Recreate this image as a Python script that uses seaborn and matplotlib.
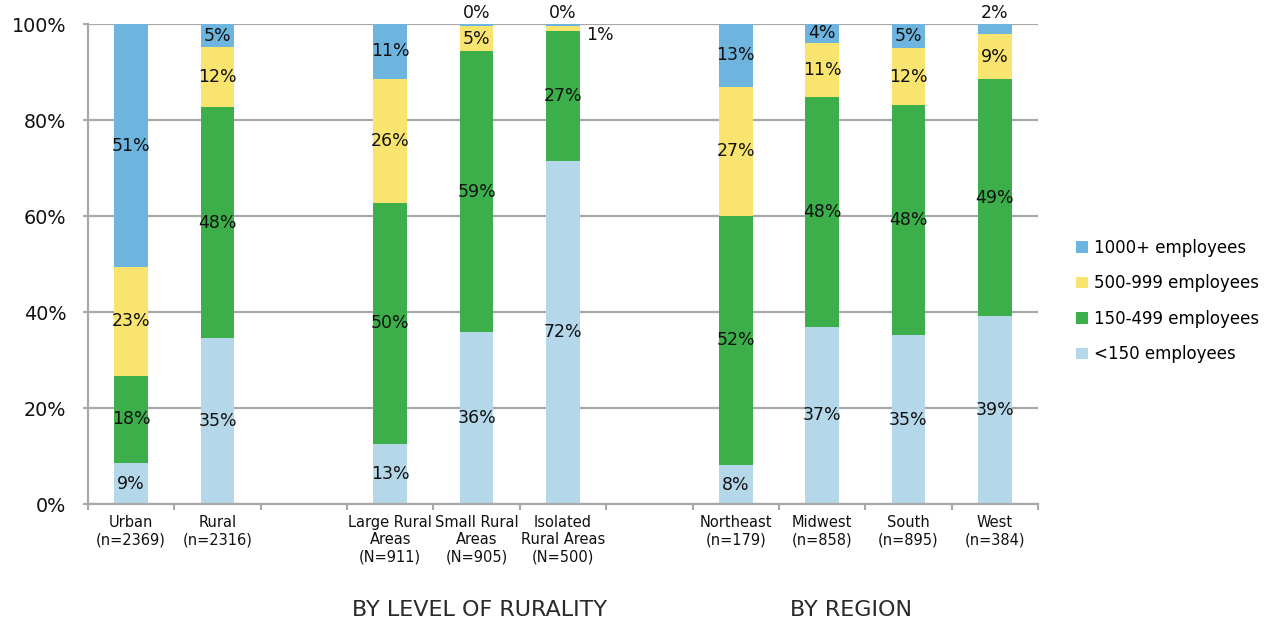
import numpy as np
import pandas as pd
import matplotlib
matplotlib.use("Agg")
import matplotlib.pyplot as plt
import seaborn as sns
from matplotlib.patches import Patch
from matplotlib.transforms import blended_transform_factory

# Hospital size distribution (% of hospitals) by rurality and census region
categories = ["Urban\n(n=2369)", "Rural\n(n=2316)",
              "Large Rural\nAreas\n(N=911)", "Small Rural\nAreas\n(N=905)",
              "Isolated\nRural Areas\n(N=500)",
              "Northeast\n(n=179)", "Midwest\n(n=858)", "South\n(n=895)", "West\n(n=384)"]
under_150 = [8.6, 34.6, 12.6, 35.8, 71.6, 8.2, 37.0, 35.2, 39.2]
emp_150_499 = [18.2, 48.2, 50.2, 58.6, 27.0, 51.9, 47.9, 47.9, 49.4]
emp_500_999 = [22.6, 12.4, 25.9, 5.2, 1.0, 26.9, 11.3, 12.0, 9.3]
emp_1000_plus = [50.6, 4.8, 11.3, 0.4, 0.4, 13.0, 3.8, 4.9, 2.1]

series_names = ["<150 employees", "150-499 employees", "500-999 employees", "1000+ employees"]
series_colors = ["#B4D7E9", "#3CAE4A", "#F9E46F", "#6DB4DF"]
group_titles = ["BY LEVEL OF RURALITY", "BY REGION"]

# slot order with blank spacer columns between the groups
gap1, gap2 = " ", "  "
order = categories[:2] + [gap1] + categories[2:5] + [gap2] + categories[5:]

df = pd.DataFrame({
    "category": categories,
    series_names[0]: under_150,
    series_names[1]: emp_150_499,
    series_names[2]: emp_500_999,
    series_names[3]: emp_1000_plus,
})
cum = df[series_names].cumsum(axis=1)
for name in series_names:
    df["top_" + name] = cum[name]

plt.rcParams["font.family"] = ["DejaVu Sans"]
fig = plt.figure(figsize=(12.68, 6.21), dpi=100)
ax = fig.add_axes([88 / 1268, (621 - 504.3) / 621, (1038 - 88) / 1268, 480 / 621])

grid_color = "#A8A8A8"
ax.set_axisbelow(True)
ax.yaxis.grid(True, color=grid_color, linewidth=1.6)

# stacked bars: draw cumulative totals from the top series down
for name, color in reversed(list(zip(series_names, series_colors))):
    sns.barplot(data=df, x="category", y="top_" + name, order=order,
                color=color, saturation=1, width=0.39, ax=ax,
                edgecolor="none", linewidth=0)

# value labels
for i, cat in enumerate(categories):
    xi = order.index(cat)
    bottom = 0.0
    for k, name in enumerate(series_names):
        v = df.loc[i, name]
        txt = f"{v:.0f}%"
        if v < 3 and k == len(series_names) - 1:
            ax.annotate(txt, (xi, 100), xytext=(0, 1.5), textcoords="offset points",
                        ha="center", va="bottom", fontsize=12.5, color="#111111",
                        annotation_clip=False)
        elif v < 3:
            ax.annotate(txt, (xi + 0.2, bottom + v), xytext=(4, -6), textcoords="offset points",
                        ha="left", va="center", fontsize=12.5, color="#111111",
                        annotation_clip=False)
        else:
            ax.text(xi, bottom + v / 2, txt, ha="center", va="center",
                    fontsize=12.5, color="#111111")
        bottom += v

ax.set_xlim(-0.5, len(order) - 0.5)
ax.set_ylim(0, 100)
ax.set_yticks(np.arange(0, 101, 20))
ax.set_yticklabels([f"{t}%" for t in range(0, 101, 20)], fontsize=13.8, color="#111111")
ax.set_xticks(range(len(order)))
ax.set_xticklabels([c if c.strip() else "" for c in order], fontsize=10.5,
                   color="#111111", linespacing=1.15)
ax.tick_params(axis="x", which="major", length=0, pad=8)
ax.set_xticks(np.arange(-0.5, len(order), 1), minor=True)
ax.tick_params(axis="x", which="minor", length=4, width=1.5, color=grid_color)
ax.tick_params(axis="y", length=3.6, width=1.5, color=grid_color, pad=12)
ax.set_xlabel("")
ax.set_ylabel("")

for side in ["top", "right"]:
    ax.spines[side].set_visible(False)
for side in ["left", "bottom"]:
    ax.spines[side].set_color(grid_color)
    ax.spines[side].set_linewidth(1.6)

# group titles under the axis
trans = blended_transform_factory(ax.transData, fig.transFigure)
ax.text(4.03, 0.018, group_titles[0], transform=trans, ha="center", va="center",
        fontsize=16, color="#2a2a2a")
ax.text(8.34, 0.018, group_titles[1], transform=trans, ha="center", va="center",
        fontsize=16, color="#2a2a2a")

handles = [Patch(facecolor=c, edgecolor="none") for c in series_colors]
fig.legend(handles[::-1], series_names[::-1], loc="center left",
           bbox_to_anchor=(1068 / 1268, 0.515), frameon=False, fontsize=12,
           handlelength=0.7, handleheight=0.7, handletextpad=0.35,
           labelspacing=1.05, borderpad=0)

fig.savefig("out.png", dpi=100)
